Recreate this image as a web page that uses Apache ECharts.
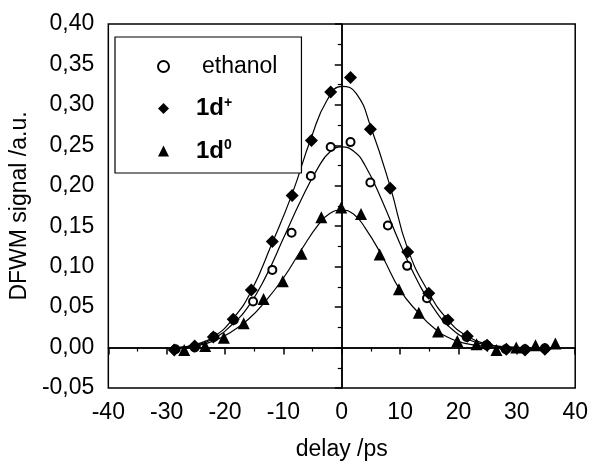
<!DOCTYPE html>
<html lang="en" style="height: 100%">
<head>
  <meta charset="utf-8">
</head>
<body style="height: 100%; margin: 0; background: #fff">
  <div id="container" style="width: 591px; height: 466px"></div>

  <script type="text/javascript" src="https://cdn.jsdelivr.net/npm/echarts@6/dist/echarts.min.js"></script>

  <script type="text/javascript">
    // measured points [delay ps, signal]
    var ethanolPts = [[-28.5, -0.002], [-25.2, 0.000], [-21.9, 0.013], [-18.5, 0.034], [-15.2, 0.057],
      [-11.9, 0.096], [-8.6, 0.142], [-5.3, 0.212], [-1.9, 0.248], [1.5, 0.254], [4.9, 0.204],
      [7.9, 0.151], [11.2, 0.101], [14.6, 0.061], [18.0, 0.034], [21.4, 0.013], [24.8, 0.003],
      [28.1, -0.002], [31.4, -0.002], [34.8, -0.001]];
    var plusPts = [[-28.7, -0.003], [-25.2, 0.002], [-22.0, 0.013], [-18.6, 0.035], [-15.5, 0.071],
      [-11.9, 0.131], [-8.5, 0.188], [-5.2, 0.256], [-1.9, 0.316], [1.5, 0.334], [4.9, 0.270],
      [8.3, 0.197], [11.3, 0.118], [14.9, 0.067], [18.2, 0.034], [21.5, 0.014], [24.9, 0.003],
      [28.2, -0.002], [31.4, -0.003], [34.8, -0.002]];
    var zeroPts = [[-27.0, -0.003], [-23.4, 0.002], [-20.2, 0.012], [-16.8, 0.030], [-13.4, 0.060],
      [-10.1, 0.082], [-6.9, 0.116], [-3.5, 0.161], [-0.1, 0.173], [3.3, 0.165], [6.5, 0.115],
      [9.8, 0.072], [13.2, 0.043], [16.5, 0.020], [19.8, 0.008], [23.1, 0.004], [26.5, -0.003],
      [29.9, 0.000], [33.2, 0.003], [36.6, 0.005]];

    // fitted curves
    var plusFit = [[-28, 0.000], [-25, 0.004], [-22, 0.013], [-18.6, 0.036], [-15.5, 0.070],
      [-12, 0.128], [-8.5, 0.190], [-5.2, 0.260], [-2.5, 0.306], [0, 0.323], [2.5, 0.314],
      [5, 0.272], [8.3, 0.199], [11.3, 0.122], [14.9, 0.068], [18.2, 0.034], [21.5, 0.014],
      [25, 0.004], [28, 0.001], [31, 0.000]];
    var ethanolFit = [[-28, 0.000], [-25, 0.003], [-22, 0.011], [-19, 0.027], [-16, 0.051],
      [-13, 0.088], [-10, 0.135], [-7, 0.182], [-4, 0.223], [-2, 0.242], [0, 0.248], [2, 0.243],
      [4, 0.225], [7, 0.180], [10, 0.128], [13, 0.082], [16, 0.046], [19, 0.022], [22, 0.009],
      [25, 0.003], [28, 0.001], [31, 0.000]];
    var zeroFit = [[-28, 0.000], [-25, 0.002], [-22, 0.008], [-19, 0.019], [-16, 0.035],
      [-13, 0.058], [-10, 0.086], [-7, 0.120], [-4, 0.152], [-2, 0.166], [0, 0.170], [2, 0.165],
      [4, 0.148], [7, 0.112], [10, 0.071], [13, 0.044], [16, 0.023], [19, 0.010], [22, 0.004],
      [25, 0.001], [28, 0.000], [31, 0.000]];

    var FONT = 'Liberation Sans';
    var myChart = echarts.init(document.getElementById('container'), null, { renderer: 'canvas' });

    var curve = function (d) {
      return {
        type: 'line', data: d, smooth: true, showSymbol: false, silent: true,
        lineStyle: { color: '#000', width: 1.2 }, z: 2
      };
    };

    var option = {
      animation: false,
      grid: { left: 105, right: 14, top: 24, bottom: 78, show: true, borderColor: '#000', borderWidth: 1.5 },
      xAxis: {
        type: 'value', min: -40, max: 40, interval: 10,
        name: 'delay /ps', nameLocation: 'middle', nameGap: 50,
        nameTextStyle: { fontFamily: FONT, fontSize: 23, color: '#000' },
        axisLine: { lineStyle: { color: '#000', width: 1.5 } },
        axisTick: { length: 7, lineStyle: { color: '#000', width: 1.5 } },
        minorTick: { show: true, splitNumber: 2, length: 4, lineStyle: { color: '#000', width: 1.2 } },
        axisLabel: { fontFamily: FONT, fontSize: 23, color: '#000', margin: 13 },
        splitLine: { show: false }
      },
      yAxis: {
        type: 'value', min: -0.05, max: 0.4, interval: 0.05,
        name: 'DFWM signal /a.u.', nameLocation: 'middle', nameGap: 69,
        nameTextStyle: { fontFamily: FONT, fontSize: 23, color: '#000' },
        axisLine: { lineStyle: { color: '#000', width: 1.5 } },
        axisTick: { length: 7, lineStyle: { color: '#000', width: 1.5 } },
        minorTick: { show: true, splitNumber: 2, length: 4, lineStyle: { color: '#000', width: 1.2 } },
        axisLabel: {
          fontFamily: FONT, fontSize: 23, color: '#000', margin: 14,
          formatter: function (v) { return v.toFixed(2).replace('.', ','); }
        },
        splitLine: { show: false }
      },
      legend: {
        orient: 'vertical', left: 115, top: 37,
        data: ['ethanol', '1d+', '1d0'],
        itemWidth: 11, itemHeight: 11, itemGap: 18,
        padding: [18, 24, 10, 42],
        borderColor: '#000', borderWidth: 1.2, backgroundColor: '#fff',
        formatter: function (n) {
          if (n === 'ethanol') return '{n|ethanol}';
          if (n === '1d+') return '{b|1d}{s|+}';
          return '{b|1d}{s|0}';
        },
        textStyle: {
          color: '#000',
          rich: {
            n: { fontFamily: FONT, fontSize: 23, lineHeight: 25, padding: [0, 0, 0, 28] },
            b: { fontFamily: FONT, fontSize: 24, fontWeight: 'bold', lineHeight: 25, padding: [0, 0, 0, 22] },
            s: { fontFamily: FONT, fontSize: 14, fontWeight: 'bold', verticalAlign: 'top', lineHeight: 13 }
          }
        }
      },
      series: [
        {
          name: 'ethanol', type: 'scatter', data: ethanolPts, symbol: 'emptyCircle', symbolSize: 8,
          itemStyle: { color: '#000', borderColor: '#000', borderWidth: 1.8, opacity: 1 }, z: 4
        },
        {
          name: '1d+', type: 'scatter', data: plusPts, symbol: 'diamond', symbolSize: 13,
          itemStyle: { color: '#000', opacity: 1 }, z: 4
        },
        {
          name: '1d0', type: 'scatter', data: zeroPts, symbol: 'triangle', symbolSize: 12,
          itemStyle: { color: '#000', opacity: 1 }, z: 4
        },
        curve(plusFit),
        curve(ethanolFit),
        Object.assign(curve(zeroFit), {
          markLine: {
            silent: true, symbol: 'none', label: { show: false },
            lineStyle: { color: '#000', width: 1.5, type: 'solid' },
            data: [{ xAxis: 0 }, { yAxis: 0 }]
          }
        })
      ]
    };

    myChart.setOption(option);
    window.addEventListener('resize', myChart.resize);
  </script>
</body>
</html>
